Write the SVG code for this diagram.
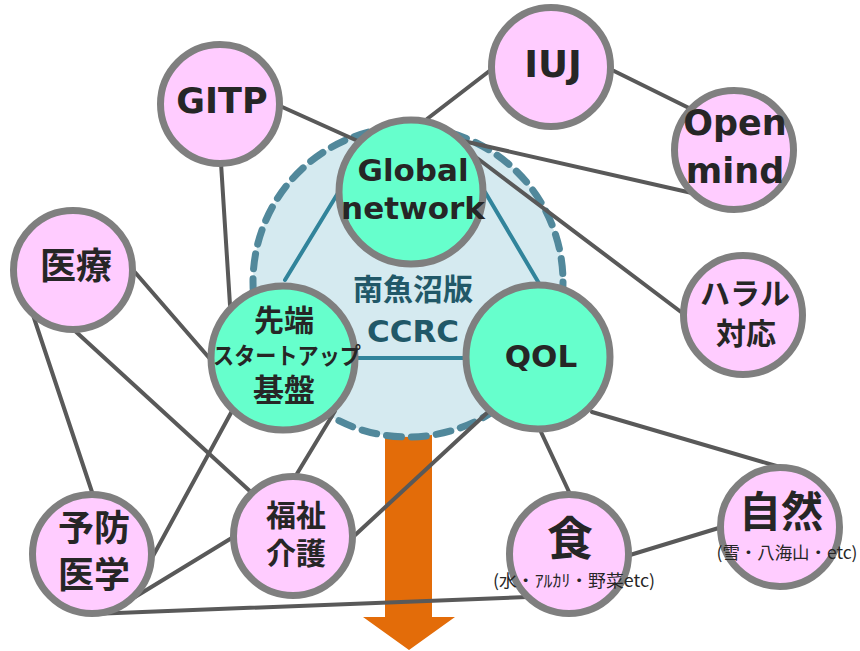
<svg xmlns="http://www.w3.org/2000/svg" width="860" height="651" viewBox="0 0 860 651">
<style>
.lk{stroke:#595959;stroke-width:4;fill:none;stroke-linecap:round}
.tl{stroke:#31849B;stroke-width:4;fill:none;stroke-linecap:round}
.pk{fill:#FFCCFF;stroke:#7F7F7F;stroke-width:7}
.gr{fill:#66FFCC;stroke:#7F7F7F;stroke-width:7}
.t{font-family:"DejaVu Sans","Noto Sans CJK JP",sans-serif;font-weight:bold;fill:#262626;text-anchor:middle}
.j{font-family:"Noto Sans CJK JP",sans-serif;font-weight:bold;fill:#262626;text-anchor:middle}
.s{font-family:"Noto Sans CJK JP",sans-serif;font-weight:normal;fill:#262626;text-anchor:middle}
.c{font-family:"DejaVu Sans","Noto Sans CJK JP",sans-serif;font-weight:bold;fill:#215868;text-anchor:middle}
</style>
<rect width="860" height="651" fill="#FFFFFF"/>
<g id="arrow">
<polygon points="385,430 432,430 432,617 455,617 409,650 363,617 385,617" fill="#E36C09"/>
</g>
<g id="ccrc">
<circle cx="408" cy="282" r="155" fill="#D5EAF0" stroke="#51889B" stroke-width="7" stroke-dasharray="15 10" stroke-linecap="round"/>
<text class="c" x="413" y="300" font-size="30">南魚沼版</text>
<text class="c" x="413" y="342" font-size="31">CCRC</text>
</g>
<g id="connectors">
<line class="tl" x1="338" y1="193" x2="285" y2="280"/>
<line class="tl" x1="485" y1="192" x2="540" y2="285"/>
<line class="tl" x1="357" y1="358" x2="465" y2="358"/>
<line class="lk" x1="280" y1="106" x2="360" y2="142"/>
<line class="lk" x1="221" y1="163" x2="230" y2="305"/>
<line class="lk" x1="492" y1="69" x2="427" y2="119"/>
<line class="lk" x1="610" y1="69" x2="693" y2="110"/>
<line class="lk" x1="463" y1="141" x2="692" y2="193"/>
<line class="lk" x1="473" y1="155" x2="685" y2="315"/>
<line class="lk" x1="133" y1="270" x2="211" y2="360"/>
<line class="lk" x1="74" y1="330" x2="252" y2="493"/>
<line class="lk" x1="32" y1="312" x2="93" y2="495"/>
<line class="lk" x1="232" y1="411" x2="153" y2="556"/>
<line class="lk" x1="335" y1="411" x2="295" y2="477"/>
<line class="lk" x1="235" y1="536" x2="135" y2="597"/>
<line class="lk" x1="92" y1="614" x2="527" y2="597"/>
<line class="lk" x1="353" y1="537" x2="488" y2="412"/>
<line class="lk" x1="541" y1="432" x2="570" y2="494"/>
<line class="lk" x1="592" y1="412" x2="780" y2="467"/>
<line class="lk" x1="630" y1="555" x2="722" y2="527"/>
</g>
<g id="global">
<circle class="gr" cx="411" cy="192" r="72"/>
<text class="t" x="413" y="181" font-size="31">Global</text>
<text class="t" x="413" y="219" font-size="31">network</text>
</g>
<g id="sentan">
<circle class="gr" cx="283" cy="358" r="72"/>
<text class="j" x="284" y="331" font-size="30">先端</text>
<text class="j" x="287" y="364" font-size="23" textLength="148" lengthAdjust="spacingAndGlyphs">スタートアップ</text>
<text class="j" x="284" y="401" font-size="31">基盤</text>
</g>
<g id="qol">
<circle class="gr" cx="538" cy="357" r="72"/>
<text class="t" x="541" y="367" font-size="31">QOL</text>
</g>
<g id="gitp">
<circle class="pk" cx="220" cy="104" r="59.5"/>
<text class="t" x="222" y="113" font-size="35">GITP</text>
</g>
<g id="iuj">
<circle class="pk" cx="551" cy="67" r="59.5"/>
<text class="t" x="553" y="77" font-size="37">IUJ</text>
</g>
<g id="openmind">
<circle class="pk" cx="734" cy="150" r="59.5"/>
<text class="t" x="735" y="135" font-size="35">Open</text>
<text class="t" x="735" y="183" font-size="35">mind</text>
</g>
<g id="halal">
<circle class="pk" cx="743" cy="315" r="59.5"/>
<text class="j" x="745" y="304" font-size="30">ハラル</text>
<text class="j" x="746" y="344" font-size="30">対応</text>
</g>
<g id="iryo">
<circle class="pk" cx="73" cy="270" r="59.5"/>
<text class="j" x="76" y="279" font-size="36">医療</text>
</g>
<g id="yobo">
<circle class="pk" cx="92" cy="554" r="59.5"/>
<text class="j" x="94" y="541" font-size="36">予防</text>
<text class="j" x="94" y="588" font-size="36">医学</text>
</g>
<g id="fukushi">
<circle class="pk" cx="293" cy="536" r="59.5"/>
<text class="j" x="296" y="526" font-size="30">福祉</text>
<text class="j" x="296" y="564" font-size="30">介護</text>
</g>
<g id="shoku">
<circle class="pk" cx="569" cy="554" r="59.5"/>
<text class="j" x="570" y="555" font-size="46">食</text>
<text class="s" x="574" y="587" font-size="17" textLength="162" lengthAdjust="spacingAndGlyphs">(水・ｱﾙｶﾘ・野菜etc)</text>
</g>
<g id="shizen">
<circle class="pk" cx="780" cy="527" r="59.5"/>
<text class="j" x="781" y="527" font-size="42">自然</text>
<text class="s" x="787" y="559" font-size="17" textLength="141" lengthAdjust="spacingAndGlyphs">(雪・八海山・etc)</text>
</g>
</svg>
